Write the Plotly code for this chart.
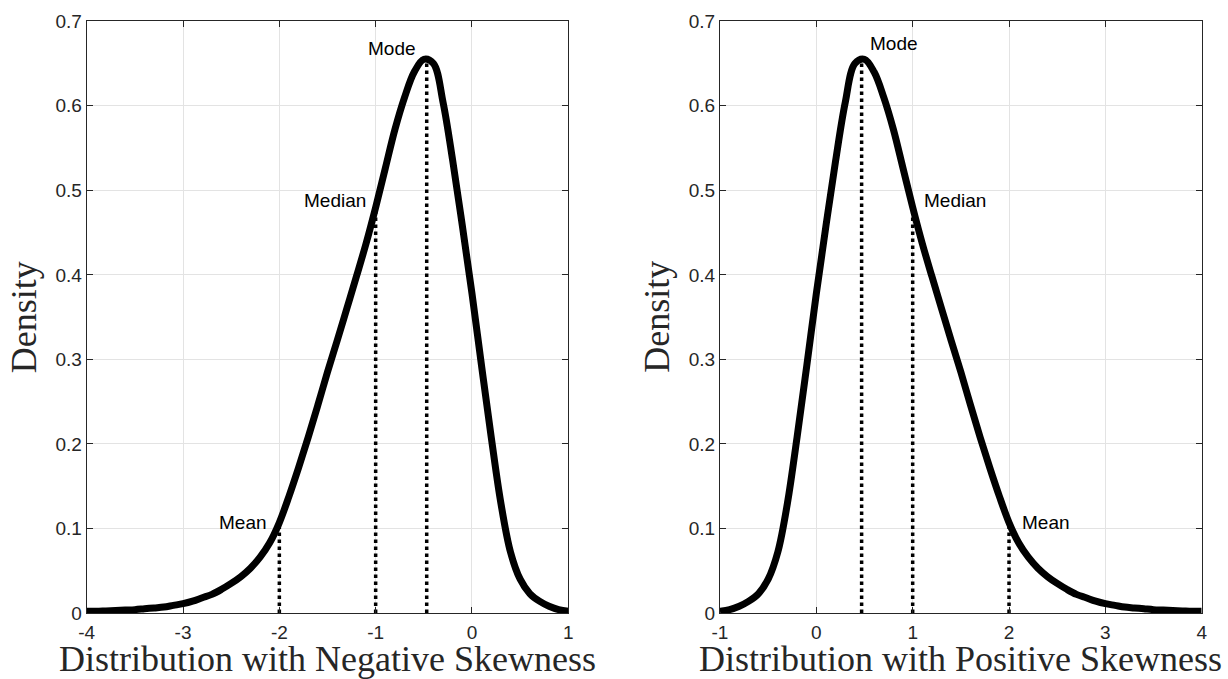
import plotly.graph_objects as go

# Right-skewed density, read at steps of 0.1 along x
pos_x = [-1.0, -0.9, -0.8, -0.7, -0.6, -0.5, -0.4, -0.3, -0.2, -0.1,
         0.0, 0.1, 0.2, 0.3, 0.4, 0.5, 0.6, 0.7, 0.8, 0.9,
         1.0, 1.1, 1.2, 1.3, 1.4, 1.5, 1.6, 1.7, 1.8, 1.9,
         2.0, 2.1, 2.2, 2.3, 2.4, 2.5, 2.6, 2.7, 2.8, 2.9,
         3.0, 3.1, 3.2, 3.3, 3.4, 3.5, 3.6, 3.7, 3.8, 3.9, 4.0]
pos_y = [0.002, 0.004, 0.008, 0.014, 0.023, 0.040, 0.072, 0.130, 0.208, 0.292,
         0.378, 0.458, 0.535, 0.604, 0.650, 0.655, 0.640, 0.610, 0.572, 0.526,
         0.480, 0.437, 0.398, 0.360, 0.322, 0.285, 0.246, 0.208, 0.172, 0.138,
         0.107, 0.083, 0.066, 0.053, 0.043, 0.035, 0.028, 0.022, 0.018, 0.014,
         0.011, 0.009, 0.007, 0.006, 0.005, 0.004, 0.0035, 0.003, 0.0025, 0.002, 0.002]

# Left-skewed density, read at steps of 0.1 along x
neg_x = [-4.0, -3.9, -3.8, -3.7, -3.6, -3.5, -3.4, -3.3, -3.2, -3.1,
         -3.0, -2.9, -2.8, -2.7, -2.6, -2.5, -2.4, -2.3, -2.2, -2.1,
         -2.0, -1.9, -1.8, -1.7, -1.6, -1.5, -1.4, -1.3, -1.2, -1.1,
         -1.0, -0.9, -0.8, -0.7, -0.6, -0.5, -0.4, -0.3, -0.2, -0.1,
         0.0, 0.1, 0.2, 0.3, 0.4, 0.5, 0.6, 0.7, 0.8, 0.9, 1.0]
neg_y = [0.002, 0.002, 0.0025, 0.003, 0.0035, 0.004, 0.005, 0.006, 0.007, 0.009,
         0.011, 0.014, 0.018, 0.022, 0.028, 0.035, 0.043, 0.053, 0.066, 0.083,
         0.107, 0.138, 0.172, 0.208, 0.246, 0.285, 0.322, 0.360, 0.398, 0.437,
         0.480, 0.526, 0.572, 0.610, 0.640, 0.655, 0.650, 0.604, 0.535, 0.458,
         0.378, 0.292, 0.208, 0.130, 0.072, 0.040, 0.023, 0.014, 0.008, 0.004, 0.002]

# Mode / median / mean guides
marker_names = ["Mode", "Median", "Mean"]
pos_marks_x = [0.47, 1.00, 2.00]
pos_marks_y = [0.657, 0.480, 0.107]
neg_marks_x = [-0.47, -1.00, -2.00]
neg_marks_y = [0.657, 0.480, 0.107]

y_ticks = [0, 0.1, 0.2, 0.3, 0.4, 0.5, 0.6, 0.7]
neg_x_ticks = [-4, -3, -2, -1, 0, 1]
pos_x_ticks = [-1, 0, 1, 2, 3, 4]

TICK_FONT = dict(family="Liberation Sans, Arial, sans-serif", size=19, color="#262626")
LABEL_FONT = dict(family="Liberation Sans, Arial, sans-serif", size=19, color="#000000")
TITLE_FONT = dict(family="Liberation Serif, Times New Roman, serif", size=36, color="#262626")

W, H = 1228, 679
fig = go.Figure()

# label offsets (pixels) for each guide, per panel
left_shifts = {"Mode": (-9, 9), "Median": (-8, 7), "Mean": (-10, 0)}
right_shifts = {"Mode": (6, 14), "Median": (9, 7), "Mean": (11, 0)}

panels = [
    dict(x=neg_x, y=neg_y, mx=neg_marks_x, my=neg_marks_y, xa="x", ya="y",
         rng=[-4, 1], ticks=neg_x_ticks, dom=[86.7 / W, 568.3 / W],
         title="Distribution with Negative Skewness", anchor="right", shifts=left_shifts),
    dict(x=pos_x, y=pos_y, mx=pos_marks_x, my=pos_marks_y, xa="x2", ya="y2",
         rng=[-1, 4], ticks=pos_x_ticks, dom=[720.0 / W, 1201.7 / W],
         title="Distribution with Positive Skewness", anchor="left", shifts=right_shifts),
]

y_dom = [(H - 613.0) / H, (H - 21.3) / H]

for i, p in enumerate(panels):
    # vertical dotted guides
    for mx, my in zip(p["mx"], p["my"]):
        fig.add_trace(go.Scatter(x=[mx, mx], y=[0, my], mode="lines",
                                 line=dict(color="black", width=3.5, dash="dot"),
                                 xaxis=p["xa"], yaxis=p["ya"], showlegend=False,
                                 hoverinfo="skip"))
    # density curve
    fig.add_trace(go.Scatter(x=p["x"], y=p["y"], mode="lines",
                             line=dict(color="black", width=7, shape="spline", smoothing=1.0),
                             xaxis=p["xa"], yaxis=p["ya"], showlegend=False))
    # labels next to each guide
    for name, mx, my in zip(marker_names, p["mx"], p["my"]):
        dx, dy = p["shifts"][name]
        fig.add_annotation(x=mx, y=my, xref=p["xa"], yref=p["ya"], text=name,
                           showarrow=False, xanchor=p["anchor"], yanchor="middle",
                           xshift=dx, yshift=dy, font=LABEL_FONT)

    axis_common = dict(showline=True, linecolor="#262626", linewidth=1, mirror="allticks",
                       ticks="inside", ticklen=6, tickwidth=1, tickcolor="#262626",
                       showgrid=True, gridcolor="#e3e3e3", gridwidth=1, zeroline=False,
                       tickfont=TICK_FONT, automargin=False)
    xkey = "xaxis" if i == 0 else "xaxis2"
    ykey = "yaxis" if i == 0 else "yaxis2"
    fig.update_layout(**{
        xkey: dict(domain=p["dom"], range=p["rng"], tickvals=p["ticks"],
                   ticktext=[str(t) for t in p["ticks"]], anchor=p["ya"],
                   ticklabelstandoff=2, **axis_common),
        ykey: dict(domain=y_dom, range=[0, 0.7], tickvals=y_ticks,
                   ticktext=["0" if t == 0 else f"{t:.1f}" for t in y_ticks],
                   anchor=p["xa"], **axis_common),
    })
    # axis titles
    cx = (p["dom"][0] + p["dom"][1]) / 2
    fig.add_annotation(x=cx, y=(H - 659.0) / H, xref="paper", yref="paper",
                       text=p["title"], showarrow=False, xanchor="center",
                       yanchor="middle", font=TITLE_FONT)
    fig.add_annotation(x=(p["dom"][0] * W - 62.5) / W, y=(y_dom[0] + y_dom[1]) / 2,
                       xref="paper", yref="paper", text="Density", textangle=-90,
                       showarrow=False, xanchor="center", yanchor="middle",
                       font=TITLE_FONT)

fig.update_layout(width=W, height=H, margin=dict(l=0, r=0, t=0, b=0),
                  paper_bgcolor="white", plot_bgcolor="white", showlegend=False)

fig.write_html("out.html")
